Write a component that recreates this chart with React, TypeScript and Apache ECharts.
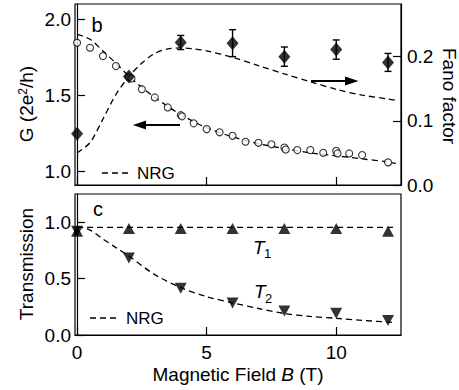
import React, { useEffect, useRef } from "react";
import * as echarts from "echarts";

// ---------- data ----------
const gField = [0, 0.5, 1.0, 1.5, 2.0, 2.1, 2.5, 3.0, 3.5, 4.0, 4.05, 4.5, 5.0, 5.5, 6.0, 6.5, 7.0, 7.5, 8.0, 8.05, 8.5, 9.0, 9.5, 10.0, 10.05, 10.5, 11.0, 12.0];
const gValues = [1.845, 1.812, 1.757, 1.691, 1.618, 1.61, 1.539, 1.485, 1.419, 1.368, 1.36, 1.314, 1.276, 1.255, 1.232, 1.193, 1.186, 1.176, 1.155, 1.142, 1.138, 1.138, 1.12, 1.133, 1.116, 1.116, 1.105, 1.057];

const fanoField = [0, 2, 4, 6, 8, 10, 12];
const fanoValues = [0.08, 0.169, 0.222, 0.221, 0.2, 0.211, 0.191];
const fanoErr = [0, 0, 0.011, 0.021, 0.015, 0.015, 0.014];

const nrgField = [0, 0.5, 1, 1.5, 2, 2.5, 3, 3.5, 4, 4.5, 5, 6, 7, 8, 9, 10, 11, 12, 12.3];
const nrgG = [1.9, 1.868, 1.79, 1.71, 1.625, 1.55, 1.485, 1.425, 1.372, 1.325, 1.285, 1.225, 1.18, 1.148, 1.12, 1.1, 1.08, 1.06, 1.05];
const nrgFano = [0.05, 0.066, 0.103, 0.141, 0.169, 0.19, 0.205, 0.212, 0.2135, 0.212, 0.209, 0.199, 0.186, 0.173, 0.161, 0.149, 0.14, 0.134, 0.132];

const tField = [0, 2, 4, 6, 8, 10, 12];
const t1Values = [0.92, 0.945, 0.945, 0.945, 0.945, 0.945, 0.92];
const t2Values = [0.92, 0.683, 0.414, 0.283, 0.213, 0.193, 0.129];

const nrgT1Field = [0, 12.3];
const nrgT1 = [0.955, 0.955];
const nrgT2Field = [0, 0.5, 1, 1.5, 2, 3, 4, 5, 6, 7, 8, 9, 10, 11, 12.3];
const nrgT2 = [0.96, 0.93, 0.85, 0.775, 0.7, 0.535, 0.42, 0.34, 0.285, 0.235, 0.19, 0.165, 0.148, 0.13, 0.11];

const xTicks = [0, 5, 10];
const gTicks = [1.0, 1.5, 2.0];
const fanoTicks = [0, 0.1, 0.2];
const tTicks = [0, 0.5, 1.0];

const FONT = "'Liberation Sans', Arial, sans-serif";
const zip = (a: number[], b: number[]) => a.map((v, i) => [v, b[i]]);

export default function App() {
  const ref = useRef<HTMLDivElement>(null);
  useEffect(() => {
    if (!ref.current) return;
    const chart = echarts.init(ref.current, undefined, { renderer: "svg" });
    const axisLine = { show: true, lineStyle: { color: "#000", width: 1.2 } };
    const tick = (vals: number[]) => ({ show: true, inside: true, length: 8, customValues: vals, lineStyle: { color: "#000", width: 1.2 } });
    const lbl = (vals: number[], show: boolean, margin: number, fmt: (v: number) => string) => ({
      show, customValues: vals, margin, color: "#000", fontSize: 19, fontFamily: FONT, formatter: fmt,
    });
    const dash = { color: "#000", width: 1.3, type: [6, 4] as any };
    const option: any = {
      animation: false,
      backgroundColor: "#fff",
      grid: [
        { left: 75, top: 4, width: 326, height: 181, show: true, borderColor: "#000", borderWidth: 1.2, backgroundColor: "transparent" },
        { left: 75, top: 194, width: 326, height: 141, show: true, borderColor: "#000", borderWidth: 1.2, backgroundColor: "transparent" },
      ],
      xAxis: [
        { type: "value", gridIndex: 0, min: -0.08, max: 12.5, axisLine, axisTick: tick(xTicks), axisLabel: { show: false }, splitLine: { show: false } },
        { type: "value", gridIndex: 1, min: -0.08, max: 12.5, axisLine, axisTick: tick(xTicks), axisLabel: lbl(xTicks, true, 8, (v) => String(v)), splitLine: { show: false } },
      ],
      yAxis: [
        { type: "value", gridIndex: 0, position: "left", min: 0.908, max: 2.1, axisLine, axisTick: tick(gTicks), axisLabel: lbl(gTicks, true, 4, (v) => v.toFixed(1)), splitLine: { show: false } },
        { type: "value", gridIndex: 0, position: "right", min: 0, max: 0.282, axisLine, axisTick: tick(fanoTicks), axisLabel: lbl(fanoTicks, true, 6, (v) => v.toFixed(1)), splitLine: { show: false } },
        { type: "value", gridIndex: 1, position: "left", min: 0, max: 1.25, axisLine, axisTick: tick(tTicks), axisLabel: lbl(tTicks, true, 4, (v) => v.toFixed(1)), splitLine: { show: false } },
      ],
      series: [
        { type: "line", xAxisIndex: 0, yAxisIndex: 0, data: zip(nrgField, nrgG), smooth: 0.3, showSymbol: false, symbol: "none", lineStyle: dash, z: 2 },
        { type: "line", xAxisIndex: 0, yAxisIndex: 1, data: zip(nrgField, nrgFano), smooth: 0.3, showSymbol: false, symbol: "none", lineStyle: dash, z: 2 },
        { type: "scatter", xAxisIndex: 0, yAxisIndex: 0, data: zip(gField, gValues), symbol: "circle", symbolSize: 7, itemStyle: { color: "#fff", borderColor: "#000", borderWidth: 1.1 }, z: 3 },
        {
          type: "custom", xAxisIndex: 0, yAxisIndex: 1, coordinateSystem: "cartesian2d", z: 4,
          data: fanoField.map((x, i) => [x, fanoValues[i], fanoErr[i]]),
          encode: { x: 0, y: 1 },
          renderItem: (params: any, api: any) => {
            const x = api.value(0), y = api.value(1), e = api.value(2);
            if (!e) return { type: "group", children: [] };
            const t = api.coord([x, y + e]);
            const b = api.coord([x, y - e]);
            const st = { stroke: "#000", lineWidth: 1.4 };
            return {
              type: "group",
              children: [
                { type: "line", shape: { x1: t[0], y1: t[1], x2: b[0], y2: b[1] }, style: st },
                { type: "line", shape: { x1: t[0] - 3.5, y1: t[1], x2: t[0] + 3.5, y2: t[1] }, style: st },
                { type: "line", shape: { x1: b[0] - 3.5, y1: b[1], x2: b[0] + 3.5, y2: b[1] }, style: st },
              ],
            };
          },
        },
        { type: "scatter", xAxisIndex: 0, yAxisIndex: 1, data: zip(fanoField, fanoValues), symbol: "diamond", symbolSize: [12, 14], itemStyle: { color: "#000" }, z: 5 },
        { type: "line", xAxisIndex: 1, yAxisIndex: 2, data: zip(nrgT1Field, nrgT1), showSymbol: false, symbol: "none", lineStyle: dash, z: 2 },
        { type: "line", xAxisIndex: 1, yAxisIndex: 2, data: zip(nrgT2Field, nrgT2), smooth: 0.3, showSymbol: false, symbol: "none", lineStyle: dash, z: 2 },
        { type: "scatter", xAxisIndex: 1, yAxisIndex: 2, data: zip(tField, t1Values), symbol: "triangle", symbolSize: [12, 11], itemStyle: { color: "#000" }, z: 4 },
        { type: "scatter", xAxisIndex: 1, yAxisIndex: 2, data: zip(tField, t2Values), symbol: "triangle", symbolRotate: 180, symbolSize: [12, 11], itemStyle: { color: "#000" }, z: 4 },
      ],
      graphic: [
        { type: "text", x: 26, y: 104, rotation: Math.PI / 2, style: { text: "G (2e{sup|2}/h)", font: `19px ${FONT}`, fill: "#000", align: "center", verticalAlign: "middle", rich: { sup: { fontSize: 12, fontFamily: FONT, verticalAlign: "top", lineHeight: 12, fill: "#000" } } } },
        { type: "text", x: 449, y: 96, rotation: -Math.PI / 2, style: { text: "Fano factor", font: `19px ${FONT}`, fill: "#000", align: "center", verticalAlign: "middle" } },
        { type: "text", x: 26, y: 264, rotation: Math.PI / 2, style: { text: "Transmission", font: `19px ${FONT}`, fill: "#000", align: "center", verticalAlign: "middle" } },
        { type: "text", x: 238, y: 374, style: { text: "Magnetic Field {i|B} (T)", font: `19px ${FONT}`, fill: "#000", align: "center", verticalAlign: "middle", rich: { i: { fontSize: 19, fontFamily: FONT, fontStyle: "italic", fill: "#000" } } } },
        { type: "text", x: 97, y: 25, style: { text: "b", font: `20px ${FONT}`, fill: "#000", align: "center", verticalAlign: "middle" } },
        { type: "text", x: 98, y: 209, style: { text: "c", font: `20px ${FONT}`, fill: "#000", align: "center", verticalAlign: "middle" } },
        { type: "line", shape: { x1: 102, y1: 173, x2: 128, y2: 173 }, style: { stroke: "#000", lineWidth: 1.3, lineDash: [6, 4] } },
        { type: "text", x: 137, y: 173, style: { text: "NRG", font: `17px ${FONT}`, fill: "#000", align: "left", verticalAlign: "middle" } },
        { type: "line", shape: { x1: 90, y1: 318, x2: 116, y2: 318 }, style: { stroke: "#000", lineWidth: 1.3, lineDash: [6, 4] } },
        { type: "text", x: 126, y: 318, style: { text: "NRG", font: `17px ${FONT}`, fill: "#000", align: "left", verticalAlign: "middle" } },
        { type: "text", x: 253, y: 247, style: { text: "T", font: `italic 19px ${FONT}`, fill: "#000", align: "left", verticalAlign: "middle" } },
        { type: "text", x: 264, y: 253, style: { text: "1", font: `13px ${FONT}`, fill: "#000", align: "left", verticalAlign: "middle" } },
        { type: "text", x: 254, y: 291, style: { text: "T", font: `italic 19px ${FONT}`, fill: "#000", align: "left", verticalAlign: "middle" } },
        { type: "text", x: 265, y: 298, style: { text: "2", font: `13px ${FONT}`, fill: "#000", align: "left", verticalAlign: "middle" } },
        { type: "line", shape: { x1: 180, y1: 125, x2: 145, y2: 125 }, style: { stroke: "#000", lineWidth: 2 } },
        { type: "polygon", shape: { points: [[133, 125], [146, 120.5], [146, 129.5]] }, style: { fill: "#000" } },
        { type: "line", shape: { x1: 311, y1: 81, x2: 346, y2: 81 }, style: { stroke: "#000", lineWidth: 2 } },
        { type: "polygon", shape: { points: [[358.5, 81], [345, 76.5], [345, 85.5]] }, style: { fill: "#000" } },
      ],
    };
    chart.setOption(option);
    return () => chart.dispose();
  }, []);
  return <div ref={ref} style={{ width: 459, height: 390, position: "absolute", left: 0, top: 0 }} />;
}
